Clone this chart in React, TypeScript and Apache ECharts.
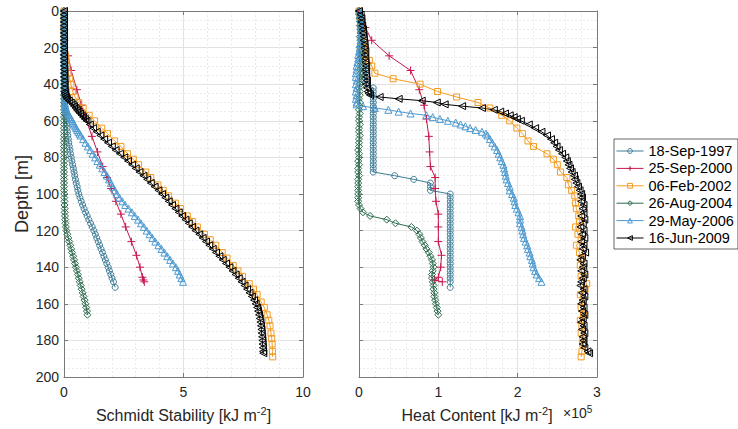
import React, { useEffect, useRef } from 'react';
import * as echarts from 'echarts';

const FONT = '"Liberation Sans", Arial, Helvetica, sans-serif';
const TXT = '#262626';

const legendNames = ['18-Sep-1997', '25-Sep-2000', '06-Feb-2002', '26-Aug-2004', '29-May-2006', '16-Jun-2009'];
const colors = ['#3E7C97', '#C8174D', '#F39B20', '#2E6B4E', '#4D9AD2', '#000000'];

// ---- 18-Sep-1997 ----
const depth1997 = [0, 2, 4, 6, 8, 10, 12, 14, 16, 18, 20, 22, 24, 26, 28, 30, 32, 34, 36, 38, 40, 42, 44, 46, 48, 50, 52, 54, 56, 58, 60, 62, 64, 66, 68, 70, 72, 74, 76, 78, 80, 82, 84, 86, 88, 90, 92, 94, 96, 98, 100, 102, 104, 106, 108, 110, 112, 114, 116, 118, 120, 122, 124, 126, 128, 130, 132, 134, 136, 138, 140, 142, 144, 146, 148, 151];
const stab1997 = [0, 0, 0, 0, 0, 0, 0, 0, 0, 0,
  0, 0, 0, 0, 0.01, 0.01, 0.01, 0.01, 0.01, 0.01,
  0.01, 0.01, 0.02, 0.02, 0.03, 0.03, 0.04, 0.05, 0.06, 0.08,
  0.1, 0.11, 0.13, 0.14, 0.16, 0.18, 0.2, 0.22, 0.25, 0.27,
  0.3, 0.33, 0.36, 0.39, 0.42, 0.45, 0.48, 0.51, 0.55, 0.58,
  0.62, 0.67, 0.72, 0.78, 0.84, 0.9, 0.97, 1.04, 1.11, 1.18,
  1.25, 1.31, 1.37, 1.43, 1.49, 1.55, 1.61, 1.67, 1.73, 1.79,
  1.85, 1.9, 1.96, 2.01, 2.07, 2.14];
const heat1997 = [0, 0.01, 0.01, 0.02, 0.02, 0.02, 0.03, 0.03, 0.03, 0.04,
  0.04, 0.04, 0.05, 0.05, 0.05, 0.06, 0.06, 0.06, 0.07, 0.07,
  0.08, 0.18, 0.18, 0.18, 0.18, 0.18, 0.18, 0.18, 0.18, 0.18,
  0.18, 0.18, 0.18, 0.18, 0.18, 0.18, 0.18, 0.18, 0.18, 0.18,
  0.18, 0.18, 0.18, 0.18, 0.18, 0.45, 0.69, 0.9, 0.9, 0.9,
  1.15, 1.15, 1.15, 1.15, 1.15, 1.15, 1.15, 1.15, 1.15, 1.15,
  1.15, 1.15, 1.15, 1.15, 1.15, 1.15, 1.15, 1.15, 1.15, 1.15,
  1.15, 1.15, 1.15, 1.15, 1.15, 1.15];

// ---- 25-Sep-2000 ----
const depth2000 = [0, 9, 16, 24.5, 32.5, 43, 51.5, 59, 68.5, 77, 85, 91, 97, 104, 111, 118, 126, 133.5, 140, 145.5, 147, 148];
const stab2000 = [0, 0, 0.01, 0.17, 0.3, 0.54, 0.73, 0.92, 1.17, 1.4, 1.62, 1.8, 1.97, 2.17, 2.38, 2.58, 2.82, 3.03, 3.18, 3.28, 3.32, 3.36];
const heat2000 = [0, 0.08, 0.16, 0.38, 0.65, 0.76, 0.82, 0.85, 0.88, 0.89, 0.9, 0.96, 0.96, 0.97, 1.0, 1.0, 1.0, 1.04, 1.03, 1.0, 0.95, 1.05];

// ---- 06-Feb-2002 ----
const depth2002 = [0, 3, 6, 10, 13, 17, 20,
  24, 27, 30, 34, 37, 40,
  44, 47, 50, 53, 57, 60,
  64, 67, 71, 74, 78, 81,
  84, 88, 91, 95, 98, 101,
  105, 108, 112, 115, 118, 122,
  125, 128, 132, 135, 139, 142,
  145, 149, 152, 155, 159, 162,
  166, 169, 172, 176, 179, 182,
  186, 189];
const stab2002 = [0, 0, 0, 0, 0, 0.01, 0.02,
  0.05, 0.08, 0.12, 0.18, 0.24, 0.29,
  0.36, 0.46, 0.62, 0.8, 1.05, 1.28,
  1.58, 1.82, 2.12, 2.38, 2.66, 2.9,
  3.12, 3.42, 3.63, 3.93, 4.15, 4.38,
  4.66, 4.88, 5.16, 5.37, 5.58, 5.88,
  6.12, 6.35, 6.62, 6.82, 7.08, 7.28,
  7.47, 7.75, 7.93, 8.08, 8.25, 8.38,
  8.5, 8.57, 8.62, 8.66, 8.69, 8.71,
  8.72, 8.73];
const heat2002 = [0, 0.01, 0.02, 0.03, 0.04, 0.05, 0.06,
  0.08, 0.13, 0.16, 0.2, 0.43, 0.77,
  0.99, 1.23, 1.5, 1.65, 1.8, 1.9,
  1.99, 2.06, 2.13, 2.2, 2.37, 2.45,
  2.5, 2.54, 2.62, 2.64, 2.68, 2.72,
  2.73, 2.74, 2.77, 2.78, 2.73, 2.76,
  2.8, 2.74, 2.78, 2.8, 2.79, 2.84,
  2.8, 2.87, 2.85, 2.79, 2.82, 2.8,
  2.83, 2.79, 2.81, 2.8, 2.82, 2.82,
  2.81, 2.8];

// ---- 26-Aug-2004 ----
const depth2004 = [0, 2, 4, 6, 8, 10, 12, 14, 16, 18, 20, 22, 24, 26, 28, 30, 32, 34, 36, 38, 40, 42, 44, 46, 48, 50, 52, 54, 56, 58, 60, 62, 64, 66, 68, 70, 72, 74, 76, 78, 80, 82, 84, 86, 88, 90, 92, 94, 96, 98,
  100, 102, 104, 106, 108, 110, 112, 114, 116, 118, 120, 122, 124, 126, 128, 130, 132, 134, 136, 138, 140, 142, 144, 146, 148, 150, 152, 154, 156, 158, 160, 162, 164, 166];
const stab2004 = [0, 0, 0, 0, 0, 0, 0, 0, 0, 0,
  0, 0, 0, 0, 0, 0, 0, 0, 0, 0,
  0, 0, 0, 0, 0, 0, 0, 0, 0, 0,
  0, 0, 0, 0, 0, 0, 0, 0, 0, 0,
  0, 0, 0, 0, 0, 0, 0, 0, 0, 0,
  0.01, 0.01, 0.02, 0.02, 0.03, 0.03, 0.04, 0.05, 0.06, 0.08,
  0.1, 0.14, 0.18, 0.22, 0.26, 0.3, 0.34, 0.38, 0.42, 0.46,
  0.5, 0.54, 0.58, 0.62, 0.66, 0.7, 0.74, 0.78, 0.82, 0.86,
  0.9, 0.93, 0.96, 0.98];
const heat2004 = [0, 0.01, 0.01, 0.02, 0.01, 0.02, 0.02, 0.01, 0.02, 0.02,
  0.01, 0.02, 0.01, 0.01, 0.02, 0.01, 0.01, 0.02, 0.01, 0.01,
  0.01, 0, 0.01, 0.01, 0, 0.01, 0.01, 0, 0.01, 0,
  0, 0.01, 0, 0, 0.01, 0, 0, 0, -0.01, 0,
  0, -0.01, 0, -0.01, -0.01, 0, -0.01, -0.01, -0.01, -0.01,
  -0.01, -0.01, -0.01, 0, 0.02, 0.05, 0.14, 0.35, 0.46, 0.66,
  0.73, 0.76, 0.78, 0.8, 0.83, 0.85, 0.88, 0.9, 0.92, 0.93,
  0.94, 0.93, 0.92, 0.92, 0.93, 0.94, 0.94, 0.95, 0.95, 0.96,
  0.97, 0.98, 0.99, 1.0];

// ---- 29-May-2006 ----
const depth2006 = [0, 2, 4, 6, 8, 10, 12, 14, 16, 18, 20, 22, 24, 26, 28, 30, 32, 34, 36, 38, 40, 42, 44, 46, 48, 50,
  51, 52, 53, 54, 55, 56, 57, 58, 59, 60, 61, 62, 63, 64, 65, 66, 67, 68,
  70, 72, 74, 76, 78, 80, 82, 84, 86, 88, 90, 92, 94, 96, 98, 100, 102, 104, 106, 108,
  110, 112, 114, 116, 118, 120, 122, 124, 126, 128, 130, 132, 134, 136, 138, 140, 142, 144, 146, 148];
const stab2006 = [0, 0, 0, 0, 0, 0, 0, 0, 0, 0, 0, 0, 0, 0, 0, 0.01, 0.01, 0.01, 0.01, 0.01, 0.01, 0.01, 0.01, 0.02, 0.02, 0.02,
  0.04, 0.06, 0.08, 0.1, 0.13, 0.17, 0.21, 0.26, 0.3, 0.35, 0.39, 0.43, 0.47, 0.51, 0.55, 0.6, 0.65, 0.7,
  0.8, 0.9, 1.0, 1.1, 1.2, 1.3, 1.4, 1.5, 1.6, 1.7,
  1.8, 1.88, 1.96, 2.04, 2.13, 2.22, 2.32, 2.44, 2.56, 2.7,
  2.84, 2.96, 3.1, 3.22, 3.34, 3.46, 3.58, 3.7, 3.82, 3.95,
  4.08, 4.2, 4.32, 4.44, 4.56, 4.68, 4.77, 4.84, 4.91, 4.98];
const heat2006 = [0, 0.01, 0.01, 0.02, 0.02, 0.02, 0.03, 0.02, 0.02, 0.01, 0.01, 0, -0.01, -0.01, -0.02, -0.03, -0.03, -0.04, -0.04, -0.03, -0.04, -0.03, -0.04, -0.03, -0.04, -0.03,
  -0.03, 0.05, 0.2, 0.37, 0.5, 0.65, 0.85, 0.93, 1.02, 1.12, 1.22, 1.28, 1.34, 1.4, 1.47, 1.55, 1.6, 1.62,
  1.65, 1.68, 1.71, 1.74, 1.76, 1.78, 1.8, 1.82, 1.83, 1.84,
  1.85, 1.86, 1.88, 1.9, 1.9, 1.93, 1.95, 1.96, 1.97, 1.99,
  2.01, 2.03, 2.03, 2.03, 2.05, 2.06, 2.07, 2.08, 2.1, 2.12,
  2.13, 2.15, 2.16, 2.18, 2.19, 2.2, 2.22, 2.24, 2.27, 2.3];

// ---- 16-Jun-2009 ----
const depth2009 = [0, 2, 4, 6, 8, 10, 12, 14, 16, 18, 20, 22, 24, 26, 28, 30, 32, 34, 36, 38, 40, 42, 44,
  45, 46, 47, 48, 49, 50, 51, 52, 53, 54, 55, 56, 57, 58, 59, 60,
  62, 64, 66, 68, 70, 72, 74, 76, 78, 80,
  82, 84, 86, 88, 90, 92, 94, 96, 98, 100,
  102, 104, 106, 108, 110, 112, 114, 116, 118, 120,
  122, 124, 126, 128, 130, 132, 134, 136, 138, 140,
  142, 144, 146, 148, 150, 152, 154, 156, 158, 160,
  162, 164, 166, 168, 170, 172, 174, 176, 178, 180,
  182, 184, 186, 187];
const stab2009 = [0, 0, 0, 0, 0, 0, 0, 0, 0, 0, 0, 0, 0, 0, 0, 0.01, 0.01, 0.01, 0.01, 0.02, 0.02, 0.02, 0.03,
  0.03, 0.05, 0.08, 0.12, 0.2, 0.28, 0.36, 0.42, 0.48, 0.54, 0.6, 0.67, 0.74, 0.8, 0.87, 0.94,
  1.08, 1.22, 1.37, 1.52, 1.68, 1.84, 2.0, 2.16, 2.34, 2.52,
  2.68, 2.85, 3.0, 3.16, 3.32, 3.48, 3.63, 3.79, 3.95, 4.1,
  4.24, 4.38, 4.52, 4.66, 4.8, 4.94, 5.08, 5.22, 5.36, 5.5,
  5.66, 5.8, 5.94, 6.08, 6.22, 6.36, 6.5, 6.64, 6.78, 6.92,
  7.05, 7.18, 7.31, 7.43, 7.55, 7.66, 7.76, 7.86, 7.95, 8.02,
  8.08, 8.12, 8.16, 8.19, 8.22, 8.24, 8.26, 8.27, 8.29, 8.3,
  8.31, 8.32, 8.33, 8.34];
const heat2009 = [0, 0.02, 0.03, 0.03, 0.04, 0.05, 0.05, 0.06, 0.06, 0.07, 0.07, 0.08, 0.07, 0.08, 0.08, 0.09, 0.08, 0.09, 0.09, 0.1, 0.09, 0.1, 0.11,
  0.12, 0.14, 0.26, 0.5, 0.79, 0.98, 1.08, 1.3, 1.55, 1.7, 1.78, 1.84, 1.9, 1.95, 1.99, 2.04,
  2.14, 2.22, 2.3, 2.37, 2.42, 2.46, 2.49, 2.52, 2.56, 2.6,
  2.62, 2.64, 2.66, 2.68, 2.71, 2.72, 2.74, 2.76, 2.78, 2.8,
  2.81, 2.8, 2.83, 2.82, 2.83, 2.8, 2.84, 2.82, 2.79, 2.83,
  2.81, 2.84, 2.8, 2.83, 2.82, 2.85, 2.81, 2.79, 2.83, 2.82,
  2.8, 2.84, 2.82, 2.8, 2.79, 2.83, 2.81, 2.84, 2.82, 2.8,
  2.83, 2.81, 2.84, 2.82, 2.8, 2.83, 2.81, 2.84, 2.82, 2.83,
  2.82, 2.84, 2.88, 2.9];

const profiles = [
  { depth: depth1997, stab: stab1997, heat: heat1997 },
  { depth: depth2000, stab: stab2000, heat: heat2000 },
  { depth: depth2002, stab: stab2002, heat: heat2002 },
  { depth: depth2004, stab: stab2004, heat: heat2004 },
  { depth: depth2006, stab: stab2006, heat: heat2006 },
  { depth: depth2009, stab: stab2009, heat: heat2009 },
];

const symbols = ['circle', 'path://M5,0L5,10M0,5L10,5', 'rect', 'diamond', 'triangle', 'path://M0,5L10,0L10,10Z'];
const symbolSizes = [6, 8, 6, 7, 7, 7];

const AX = '#7a7a7a';
const CLEAR = 'rgba(255,255,255,0)';

function mainX(gridIndex: number, max: number, interval: number, minorN: number) {
  return {
    type: 'value', gridIndex, min: 0, max, interval, position: 'bottom',
    axisLine: { show: true, onZero: false, lineStyle: { color: AX, width: 1 } },
    axisTick: { show: true, inside: true, length: 4, lineStyle: { color: AX } },
    axisLabel: { fontSize: 14, color: TXT, fontFamily: FONT, margin: 8 },
    splitLine: { show: true, lineStyle: { color: '#e2e2e2', width: 1 } },
    minorTick: { show: false, splitNumber: minorN },
    minorSplitLine: { show: true, lineStyle: { color: '#ebebeb', width: 1, type: [2, 2] } },
  };
}
function dummyX(gridIndex: number, max: number, interval: number) {
  return {
    type: 'value', gridIndex, min: 0, max, interval, position: 'top',
    axisLine: { show: true, onZero: false, lineStyle: { color: AX, width: 1 } },
    axisTick: { show: true, inside: true, length: 4, lineStyle: { color: AX } },
    axisLabel: { show: false }, splitLine: { show: false },
  };
}
function mainY(gridIndex: number, showLabel: boolean) {
  return {
    type: 'value', gridIndex, min: 0, max: 200, interval: 20, inverse: true, position: 'left',
    axisLine: { show: true, onZero: false, lineStyle: { color: AX, width: 1 } },
    axisTick: { show: true, inside: true, length: 4, lineStyle: { color: AX } },
    axisLabel: { show: showLabel, fontSize: 14, color: TXT, fontFamily: FONT, margin: 5 },
    splitLine: { show: true, lineStyle: { color: '#e2e2e2', width: 1 } },
    minorTick: { show: false, splitNumber: 4 },
    minorSplitLine: { show: true, lineStyle: { color: '#ebebeb', width: 1, type: [2, 2] } },
  };
}
function dummyY(gridIndex: number) {
  return {
    type: 'value', gridIndex, min: 0, max: 200, interval: 20, inverse: true, position: 'right',
    axisLine: { show: true, onZero: false, lineStyle: { color: AX, width: 1 } },
    axisTick: { show: true, inside: true, length: 4, lineStyle: { color: AX } },
    axisLabel: { show: false }, splitLine: { show: false },
  };
}

function makeSeries(i: number, panel: number) {
  const p = profiles[i];
  const vals = panel === 0 ? p.stab : p.heat;
  return {
    type: 'line',
    name: legendNames[i],
    xAxisIndex: panel === 0 ? 0 : 2,
    yAxisIndex: panel === 0 ? 0 : 2,
    data: p.depth.map((d, k) => [vals[k], d]),
    symbol: symbols[i],
    symbolSize: symbolSizes[i],
    showSymbol: true,
    showAllSymbol: true,
    clip: false,
    silent: true,
    lineStyle: { color: colors[i], width: 1 },
    itemStyle: { color: CLEAR, borderColor: colors[i], borderWidth: 1 },
    emphasis: { disabled: true },
  };
}

export default function App() {
  const ref = useRef<HTMLDivElement>(null);
  useEffect(() => {
    if (!ref.current) return;
    const chart = echarts.init(ref.current, null, { renderer: 'svg' });
    const series: any[] = [];
    for (let i = 0; i < 6; i++) series.push(makeSeries(i, 0));
    for (let i = 0; i < 6; i++) series.push(makeSeries(i, 1));
    chart.setOption({
      animation: false,
      backgroundColor: '#ffffff',
      textStyle: { fontFamily: FONT },
      grid: [
        { left: 64, top: 11, width: 239, height: 366, containLabel: false },
        { left: 359, top: 11, width: 238, height: 366, containLabel: false },
      ],
      xAxis: [mainX(0, 10, 5, 5), dummyX(0, 10, 5), mainX(1, 3, 1, 5), dummyX(1, 3, 1)],
      yAxis: [mainY(0, true), dummyY(0), mainY(1, false), dummyY(1)],
      legend: {
        data: legendNames.map((n, i) => ({
          name: n,
          itemStyle: { color: CLEAR, borderColor: colors[i], borderWidth: 1 },
          lineStyle: { color: colors[i], width: 1 },
        })),
        orient: 'vertical',
        left: 614,
        top: 139,
        itemWidth: 27,
        itemHeight: 6,
        itemGap: 1.4,
        padding: [4, 4, 3, 2],
        borderColor: '#262626',
        borderWidth: 0.7,
        backgroundColor: '#ffffff',
        selectedMode: false,
        textStyle: { fontSize: 14.5, color: '#000', fontFamily: FONT, lineHeight: 16 },
      },
      graphic: [
        {
          type: 'text', x: 22, y: 194, rotation: Math.PI / 2,
          style: { text: 'Depth [m]', fontSize: 18, fontFamily: FONT, fill: TXT, align: 'center', verticalAlign: 'middle' },
        },
        {
          type: 'text', x: 183.5, y: 415,
          style: {
            text: '{a|Schmidt Stability [kJ m}{s|-2}{a|]}', align: 'center', verticalAlign: 'middle',
            rich: {
              a: { fontSize: 16, fontFamily: FONT, fill: TXT, lineHeight: 20 },
              s: { fontSize: 11, fontFamily: FONT, fill: TXT, lineHeight: 11, verticalAlign: 'top' },
            },
          },
        },
        {
          type: 'text', x: 477, y: 415,
          style: {
            text: '{a|Heat Content [kJ m}{s|-2}{a|]}', align: 'center', verticalAlign: 'middle',
            rich: {
              a: { fontSize: 16, fontFamily: FONT, fill: TXT, lineHeight: 20 },
              s: { fontSize: 11, fontFamily: FONT, fill: TXT, lineHeight: 11, verticalAlign: 'top' },
            },
          },
        },
        {
          type: 'text', x: 563, y: 413,
          style: {
            text: '{a|×10}{s|5}', align: 'left', verticalAlign: 'middle',
            rich: {
              a: { fontSize: 14, fontFamily: FONT, fill: TXT, lineHeight: 18 },
              s: { fontSize: 10, fontFamily: FONT, fill: TXT, lineHeight: 10, verticalAlign: 'top' },
            },
          },
        },
      ],
      series,
    });
    return () => chart.dispose();
  }, []);
  return (
    <div
      ref={ref}
      style={{ position: 'fixed', left: 0, top: 0, width: 738, height: 429, background: '#fff' }}
    />
  );
}
